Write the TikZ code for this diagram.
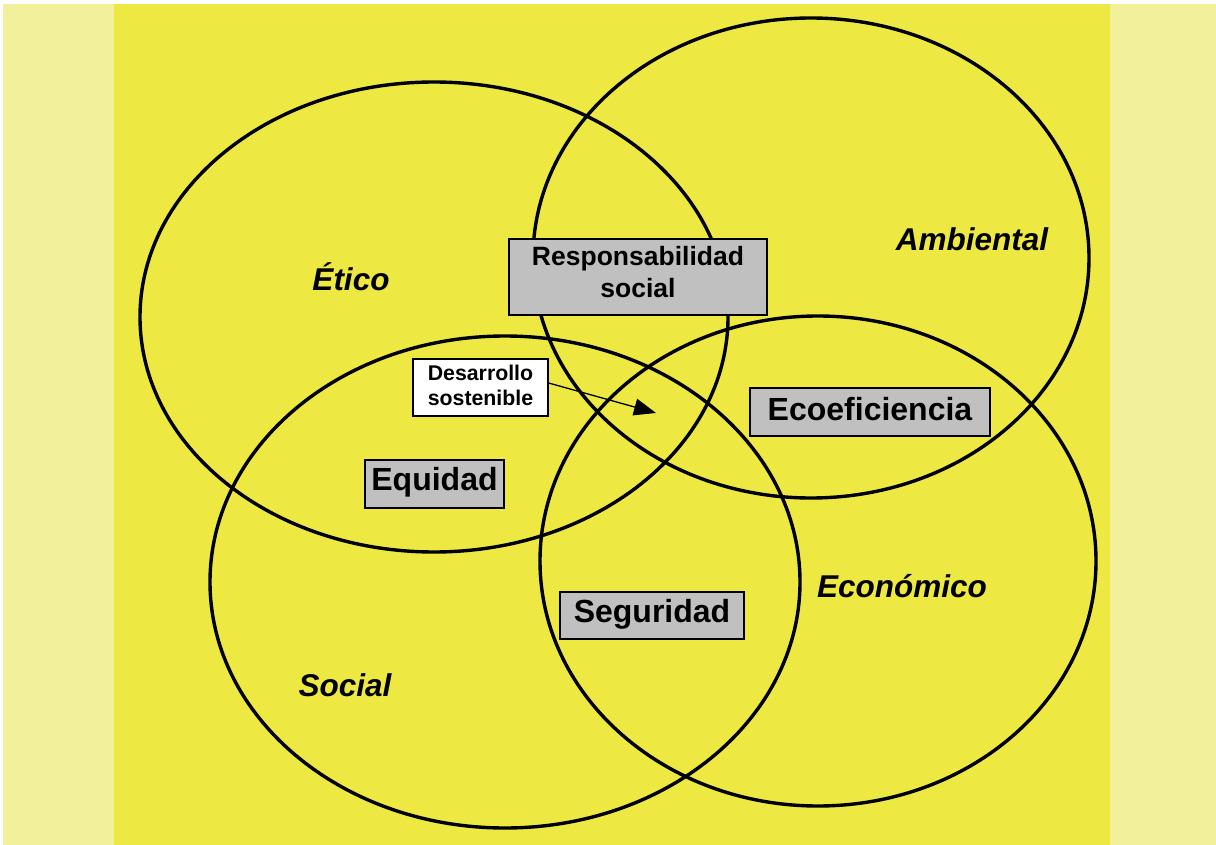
\documentclass[tikz,border=0pt]{standalone}
\usepackage{fontspec}
\setmainfont{Liberation Sans}
\usetikzlibrary{arrows.meta}
\definecolor{paleY}{HTML}{F3F09B}
\definecolor{mainY}{HTML}{EEE942}
\definecolor{boxgray}{HTML}{C0C0C0}
\tikzset{
  ring/.style={draw=black, line width=3.4pt},
  grayb/.style={draw=black, line width=1.6pt, fill=boxgray, inner sep=0pt},
  boxtxt/.style={font=\bfseries\fontsize{32}{34}\selectfont, align=center, inner sep=0pt},
  areatxt/.style={font=\bfseries\itshape\fontsize{31.5}{34}\selectfont},
}
\begin{document}
\begin{tikzpicture}[x=1pt,y=-1pt]
\useasboundingbox (0,0) rectangle (1216,845);
\fill[white] (0,0) rectangle (1216,845);
\fill[paleY] (3,4) rectangle (1216,845);
\fill[mainY] (114,4) rectangle (1110,845);
% circles
\draw[ring] (434,317) ellipse [x radius=294, y radius=235];
\draw[ring] (811,258) ellipse [x radius=278, y radius=240];
\draw[ring] (505,582) ellipse [x radius=295, y radius=246];
\draw[ring] (818,561) ellipse [x radius=278, y radius=245];
% area labels
\node[areatxt] (etico) at (351,277) {Ético};
\node[areatxt] (amb) at (972,239) {Ambiental};
\node[areatxt] (eco) at (902,586) {Económico};
\node[areatxt] (soc) at (345,685) {Social};
% boxes
\node[grayb, minimum width=258pt, minimum height=76pt,
  label={[boxtxt, font=\bfseries\fontsize{26.5}{32}\selectfont, yshift=5pt]center:Responsabilidad\\social}] (resp) at (638,277) {};
\node[grayb, minimum width=240pt, minimum height=48pt,
  label={[boxtxt, yshift=3pt]center:Ecoeficiencia}] (ecof) at (870,412) {};
\node[grayb, minimum width=139pt, minimum height=48pt,
  label={[boxtxt, yshift=2pt]center:Equidad}] (equi) at (434.5,484) {};
\node[grayb, minimum width=184pt, minimum height=47pt,
  label={[boxtxt, yshift=1pt]center:Seguridad}] (segu) at (652,615.5) {};
\node[draw=black, line width=1.3pt, fill=white, minimum width=135pt, minimum height=57pt, inner sep=0pt,
  label={[boxtxt, font=\bfseries\fontsize{21.3}{25}\selectfont, yshift=2.5pt]center:Desarrollo\\sostenible}] (desa) at (480.5,387.5) {};
\coordinate (tip) at (656,413);
\draw[line width=1.3pt, -{Triangle[length=22pt,width=17pt]}] (desa.east |- 0,383) -- (tip);
\end{tikzpicture}
\end{document}
